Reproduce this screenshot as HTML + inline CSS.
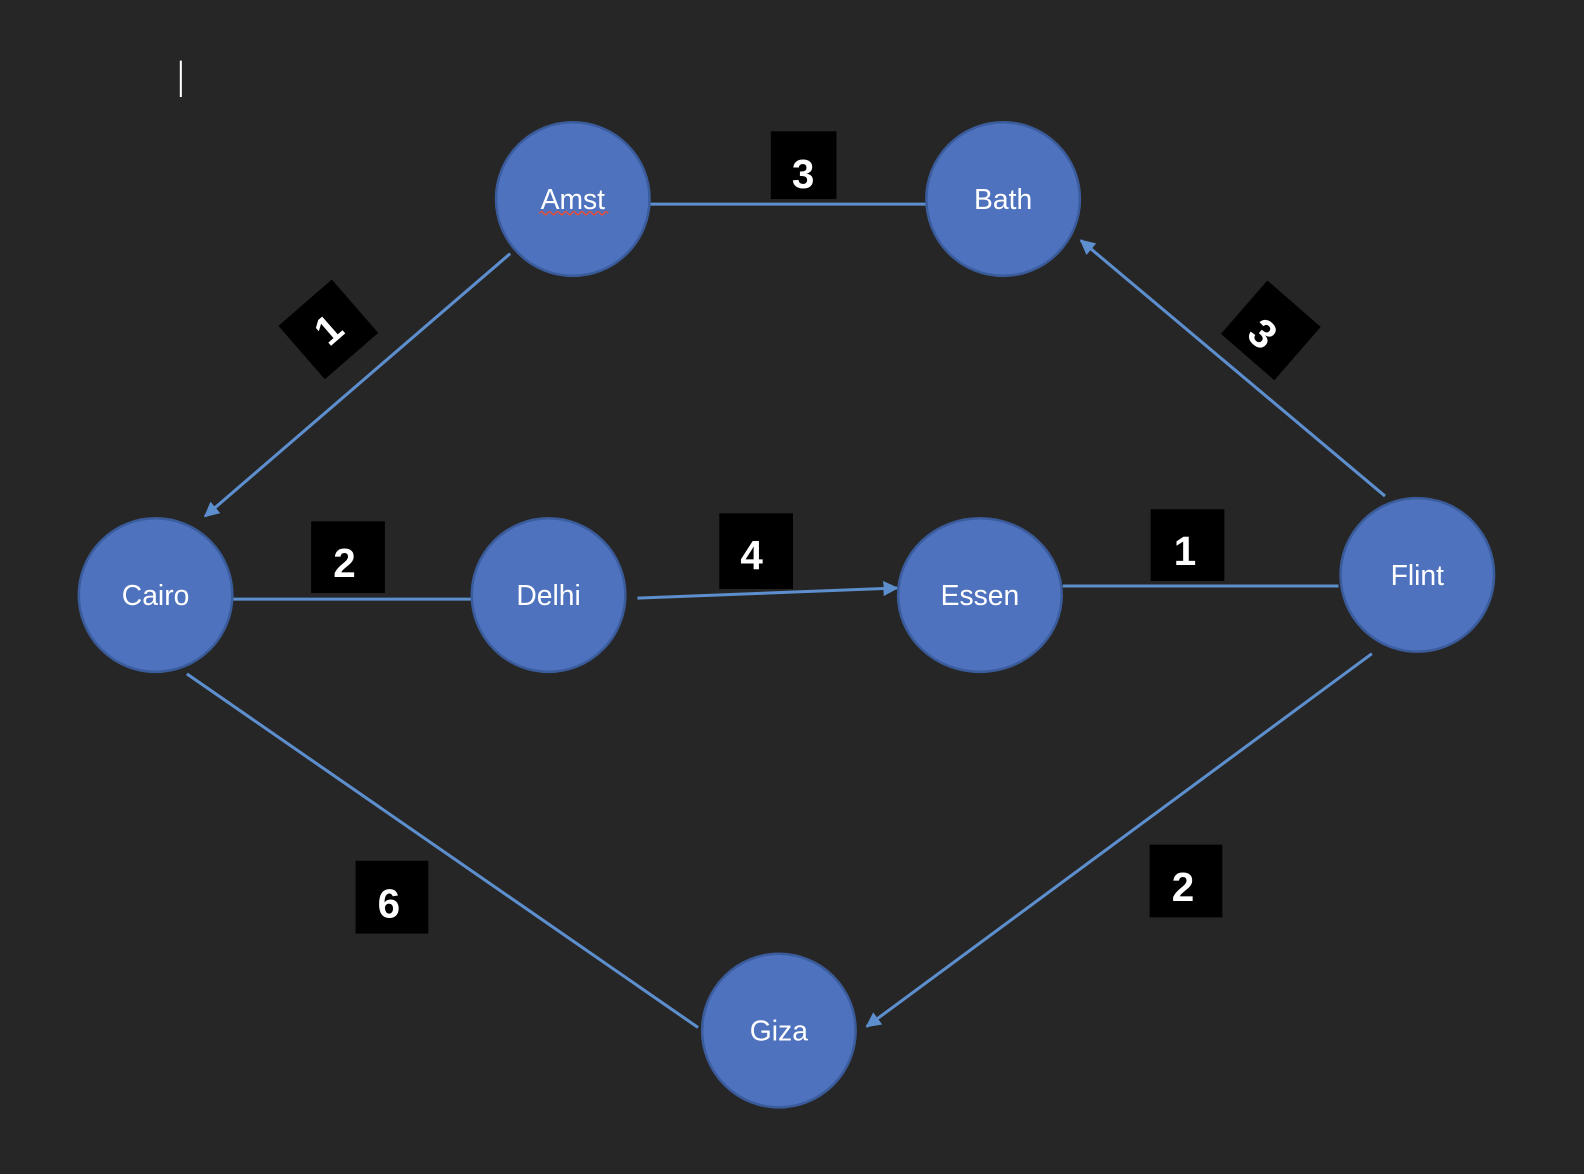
<!DOCTYPE html>
<html><head><meta charset="utf-8"><style>
html,body{margin:0;padding:0;background:#262626;}
svg{display:block;}
</style></head><body>
<svg width="1584" height="1174" viewBox="0 0 1568 1162" preserveAspectRatio="none" xmlns="http://www.w3.org/2000/svg">
<defs>
<marker id="ar" viewBox="0 0 10 10" refX="9" refY="5" markerWidth="5" markerHeight="5" orient="auto" markerUnits="strokeWidth">
<path d="M0,0 L10,5 L0,10 z" fill="#5d8fcf"/>
</marker>
</defs>
<rect width="1568" height="1162" fill="#262626"/>
<line x1="179" y1="60" x2="179" y2="96" stroke="#fff" stroke-width="2"/>
<g stroke="#5d8fcf" stroke-width="3" fill="none">
<line x1="643" y1="202" x2="917" y2="202"/>
<line x1="505" y1="251" x2="203" y2="511" marker-end="url(#ar)"/>
<line x1="1371" y1="491" x2="1070" y2="238" marker-end="url(#ar)"/>
<line x1="230" y1="593" x2="468" y2="593"/>
<line x1="631" y1="592" x2="888" y2="582" marker-end="url(#ar)"/>
<line x1="1052" y1="580" x2="1325" y2="580"/>
<line x1="185" y1="667" x2="691" y2="1017"/>
<line x1="1358" y1="647" x2="858" y2="1016" marker-end="url(#ar)"/>
</g>
<g fill="#4f72be" stroke="#3b5c9c" stroke-width="2.5">
<circle cx="567" cy="197" r="76"/>
<circle cx="993" cy="197" r="76"/>
<circle cx="154" cy="589" r="76"/>
<circle cx="543" cy="589" r="76"/>
<ellipse cx="970" cy="589" rx="81" ry="76"/>
<circle cx="1403" cy="569" r="76"/>
<circle cx="771" cy="1020" r="76"/>
</g>
<g font-family="Liberation Sans, sans-serif" font-size="28" fill="#fff" text-anchor="middle">
<text x="567" y="207">Amst</text>
<text x="993" y="207">Bath</text>
<text x="154" y="599">Cairo</text>
<text x="543" y="599">Delhi</text>
<text x="970" y="599">Essen</text>
<text x="1403" y="579">Flint</text>
<text x="771" y="1030">Giza</text>
</g>
<path d="M534,211 q2,-3 4,0 t4,0 t4,0 t4,0 t4,0 t4,0 t4,0 t4,0 t4,0 t4,0 t4,0 t4,0 t4,0 t4,0 t4,0 t4,0 t4,0" stroke="#e0503c" stroke-width="1.5" fill="none"/>
<g fill="#000">
<rect x="763" y="130" width="65" height="67"/>
<rect x="308" y="516" width="73" height="71"/>
<rect x="712" y="508" width="73" height="75"/>
<rect x="1139" y="504" width="73" height="71"/>
<rect x="352" y="852" width="72" height="72"/>
<rect x="1138" y="836" width="72" height="72"/>
<rect x="-35" y="-35" width="70" height="70" transform="translate(325,326) rotate(-41)"/>
<rect x="-35" y="-35" width="70" height="70" transform="translate(1258,327) rotate(41)"/>
</g>
<g font-family="Liberation Sans, sans-serif" font-weight="bold" font-size="40" fill="#fff" text-anchor="middle">
<text x="795" y="186">3</text>
<text x="341" y="571">2</text>
<text x="744" y="563">4</text>
<text x="1173" y="559">1</text>
<text x="385" y="908">6</text>
<text x="1171" y="892">2</text>
<text transform="translate(325,326) rotate(-41)" y="14">1</text>
<text transform="translate(1250,330) rotate(41)" y="14">3</text>
</g>
</svg>
</body></html>
